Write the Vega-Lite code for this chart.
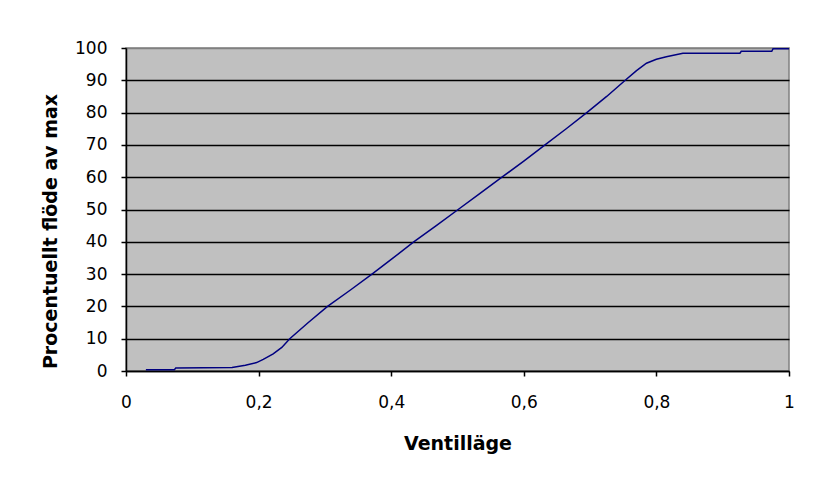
{
  "$schema": "https://vega.github.io/schema/vega-lite/v6.json",
  "width": 663,
  "height": 323,
  "autosize": {"type": "none"},
  "padding": {"left": 126, "top": 48, "right": 25, "bottom": 113},
  "background": "white",
  "config": {
    "locale": {"number": {"decimal": ",", "thousands": " ", "grouping": [3], "currency": ["", " kr"]}},
    "view": {"fill": "#C0C0C0", "stroke": "#808080", "strokeWidth": 1.5},
    "axis": {
      "labelFont": "DejaVu Sans",
      "labelFontSize": 17,
      "labelColor": "black",
      "titleFont": "DejaVu Sans",
      "titleFontSize": 19,
      "titleFontWeight": "bold",
      "titleColor": "black",
      "domainColor": "black",
      "domainWidth": 1.5,
      "tickColor": "black",
      "tickWidth": 1.5,
      "tickSize": 5
    }
  },
  "data": {
    "values": [
      {"ventillage": 0.030, "flode": 0.4},
      {"ventillage": 0.073, "flode": 0.4},
      {"ventillage": 0.075, "flode": 0.9},
      {"ventillage": 0.160, "flode": 1.1},
      {"ventillage": 0.180, "flode": 1.8},
      {"ventillage": 0.197, "flode": 2.6},
      {"ventillage": 0.207, "flode": 3.6},
      {"ventillage": 0.222, "flode": 5.3},
      {"ventillage": 0.235, "flode": 7.3},
      {"ventillage": 0.247, "flode": 10},
      {"ventillage": 0.275, "flode": 15},
      {"ventillage": 0.304, "flode": 20},
      {"ventillage": 0.338, "flode": 25},
      {"ventillage": 0.371, "flode": 30},
      {"ventillage": 0.403, "flode": 35},
      {"ventillage": 0.434, "flode": 40},
      {"ventillage": 0.468, "flode": 45},
      {"ventillage": 0.501, "flode": 50},
      {"ventillage": 0.534, "flode": 55},
      {"ventillage": 0.567, "flode": 60},
      {"ventillage": 0.600, "flode": 65},
      {"ventillage": 0.632, "flode": 70},
      {"ventillage": 0.664, "flode": 75},
      {"ventillage": 0.695, "flode": 80},
      {"ventillage": 0.725, "flode": 85},
      {"ventillage": 0.753, "flode": 90},
      {"ventillage": 0.770, "flode": 93},
      {"ventillage": 0.785, "flode": 95.3},
      {"ventillage": 0.800, "flode": 96.5},
      {"ventillage": 0.815, "flode": 97.3},
      {"ventillage": 0.840, "flode": 98.4},
      {"ventillage": 0.926, "flode": 98.4},
      {"ventillage": 0.928, "flode": 99.0},
      {"ventillage": 0.974, "flode": 99.0},
      {"ventillage": 0.976, "flode": 99.8},
      {"ventillage": 1.000, "flode": 99.8}
    ]
  },
  "mark": {"type": "line", "color": "#000080", "strokeWidth": 1.5, "clip": true},
  "encoding": {
    "x": {
      "field": "ventillage",
      "type": "quantitative",
      "scale": {"domain": [0, 1], "nice": false, "zero": false},
      "axis": {
        "title": "Ventilläge",
        "values": [0, 0.2, 0.4, 0.6, 0.8, 1],
        "format": ".1~f",
        "grid": false,
        "labelPadding": 18,
        "labelFlush": false,
        "titleY": 72,
        "titleBaseline": "middle"
      }
    },
    "y": {
      "field": "flode",
      "type": "quantitative",
      "scale": {"domain": [0, 100], "nice": false},
      "axis": {
        "title": "Procentuellt flöde av max",
        "values": [0, 10, 20, 30, 40, 50, 60, 70, 80, 90, 100],
        "grid": true,
        "gridColor": {"condition": {"test": "datum.value == 100", "value": "#808080"}, "value": "black"},
        "gridWidth": 1.5,
        "gridOpacity": 1,
        "labelPadding": 14,
        "labelFlush": false,
        "titleAngle": -90,
        "titleX": -76,
        "titleY": 183,
        "titleAlign": "center",
        "titleBaseline": "middle"
      }
    }
  }
}
